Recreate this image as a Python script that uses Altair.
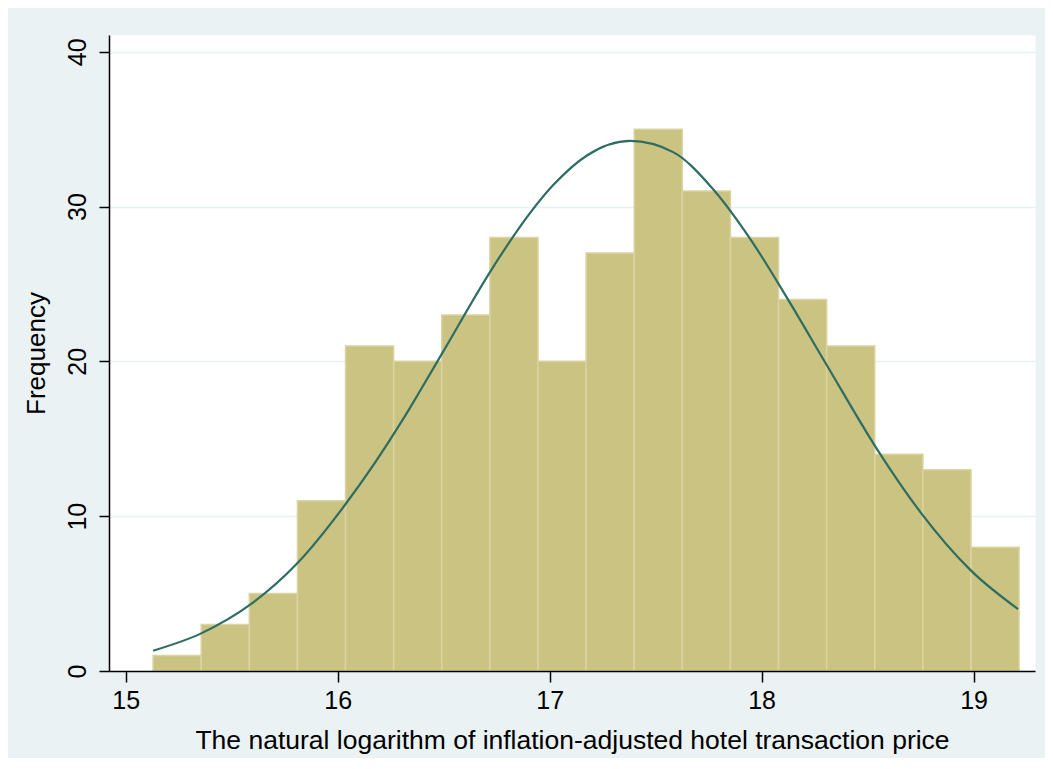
import altair as alt
import pandas as pd

# Histogram bins (left edges and right edges) and counts
bin_start = [15.129, 15.356, 15.583, 15.810, 16.037, 16.264, 16.491, 16.718, 16.945,
             17.172, 17.399, 17.626, 17.853, 18.080, 18.307, 18.534, 18.761, 18.988]
bin_end = [15.356, 15.583, 15.810, 16.037, 16.264, 16.491, 16.718, 16.945, 17.172,
           17.399, 17.626, 17.853, 18.080, 18.307, 18.534, 18.761, 18.988, 19.215]
counts = [1, 3, 5, 11, 21, 20, 23, 28, 20, 27, 35, 31, 28, 24, 21, 14, 13, 8]

# Normal-density overlay, points
curve_x = [15.129, 15.356, 15.587, 15.807, 16.034, 16.310, 16.389, 16.490, 16.720,
           16.845, 17.018, 17.176, 17.380, 17.585, 17.760, 17.947, 18.120, 18.310,
           18.546, 18.750, 18.987, 19.210]
curve_y = [1.31, 2.43, 4.28, 6.92, 10.72, 16.3, 18.1, 20.45, 25.8,
           28.4, 31.4, 33.3, 34.24, 33.5, 31.3, 27.9, 24.1, 19.7,
           14.3, 10.25, 6.5, 4.0]

x_ticks = [15, 16, 17, 18, 19]
y_ticks = [0, 10, 20, 30, 40]

bars_df = pd.DataFrame({"start": bin_start, "end": bin_end, "count": counts})
curve_df = pd.DataFrame({"x": curve_x, "y": curve_y})

FONT = "Liberation Sans"
x_scale = alt.Scale(domain=[14.921, 19.29], nice=False, zero=False)
y_scale = alt.Scale(domain=[0, 41.08], nice=False, zero=False)

x_axis = alt.Axis(
    title="The natural logarithm of inflation-adjusted hotel transaction price",
    values=x_ticks, format="d", grid=False, zindex=1,
    domainColor="black", domainWidth=1.5,
    tickColor="black", tickWidth=1.5, tickSize=11,
    labelFont=FONT, labelFontSize=25, labelColor="black", labelPadding=6,
    titleFont=FONT, titleFontSize=26.5, titleFontWeight="normal", titleColor="black",
    titlePadding=14,
)
y_axis = alt.Axis(
    title="Frequency",
    values=y_ticks, format="d", grid=True, gridColor="#E8F0F2", gridWidth=1.5, zindex=0,
    domainColor="black", domainWidth=1.5,
    tickColor="black", tickWidth=1.5, tickSize=10,
    labelFont=FONT, labelFontSize=25, labelColor="black", labelAngle=270,
    labelAlign="center", labelBaseline="bottom", labelPadding=9,
    titleFont=FONT, titleFontSize=26, titleFontWeight="normal", titleColor="black",
    titleAngle=270, titlePadding=16,
)

bars = alt.Chart(bars_df).mark_rect(
    color="#CBC381", stroke="#DAD4A2", strokeWidth=1.5
).encode(
    x=alt.X("start:Q", scale=x_scale, axis=x_axis),
    x2="end:Q",
    y=alt.Y("count:Q", scale=y_scale, axis=y_axis),
    y2=alt.datum(0),
)

curve = alt.Chart(curve_df).mark_line(
    color="#2E6E62", strokeWidth=2.2, interpolate="monotone"
).encode(
    x=alt.X("x:Q", scale=x_scale),
    y=alt.Y("y:Q", scale=y_scale),
)

chart = alt.layer(bars, curve).properties(
    width=926, height=636,
    autosize=alt.AutoSizeParams(type="none"),
    padding={"left": 101, "top": 27, "right": 10, "bottom": 87},
    background="#EAF2F3",
).configure_view(fill="white", stroke="transparent")

chart.save("out.html", embed_options={"renderer": "svg", "actions": False})
